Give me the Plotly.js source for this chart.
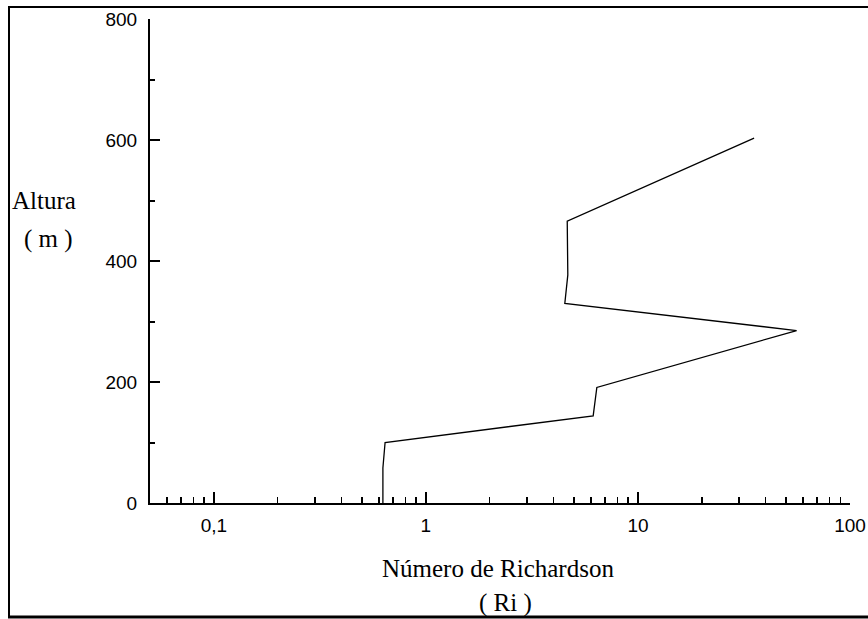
<!DOCTYPE html>
<html>
<head>
<meta charset="utf-8">
<script src="https://cdn.plot.ly/plotly-3.0.1.min.js"></script>
<style>
html,body{margin:0;padding:0;background:#fff;}
#chart{width:868px;height:619px;}
</style>
</head>
<body>
<div id="chart"></div>
<script>
// Richardson number profile
var richardson = [35.3, 4.64, 4.67, 4.52, 56, 6.4, 6.15, 0.642, 0.627, 0.627];
var altura     = [603, 466, 377, 330, 285, 191, 144, 100, 58, 0];

var xTickVals = [0.1, 1, 10, 100];
var xTickText = ['0,1', '1', '10', '100'];
var xMinorVals = [0.06,0.07,0.08,0.09,0.2,0.3,0.4,0.5,0.6,0.7,0.8,0.9,2,3,4,5,6,7,8,9,20,30,40,50,60,70,80,90];
var yTickVals = [0, 200, 400, 600, 800];
var yMinorVals = [100, 300, 500, 700];

var L = 150, R = 850, T = 19, B = 503;
function px(x){ return (x - L) / (R - L); }
function py(y){ return (B - y) / (B - T); }

var serif = {family: '"Liberation Serif", "Times New Roman", serif', size: 25, color: '#000'};
var tickFont = {family: '"Liberation Sans", Arial, sans-serif', size: 19, color: '#000'};

var trace = {
  x: richardson, y: altura, type: 'scatter', mode: 'lines',
  line: {color: '#000', width: 1.3}, hoverinfo: 'none'
};

var layout = {
  width: 868, height: 619,
  margin: {l: L, r: 868 - R, t: T, b: 619 - B, pad: 0},
  paper_bgcolor: '#fff', plot_bgcolor: '#fff',
  showlegend: false,
  font: {family: '"Liberation Sans", Arial, sans-serif', size: 19, color: '#000'},
  xaxis: {
    type: 'log', range: [Math.log10(0.05), 2],
    tickmode: 'array', tickvals: xTickVals, ticktext: xTickText, tickfont: tickFont,
    ticks: 'inside', ticklen: 11, tickwidth: 2, tickcolor: '#000',
    showline: true, linecolor: '#000', linewidth: 2,
    showgrid: false, zeroline: false, ticklabelstandoff: 4,
    minor: {tickmode: 'array', tickvals: xMinorVals, ticks: 'inside', ticklen: 6, tickwidth: 1.5, tickcolor: '#000', showgrid: false}
  },
  yaxis: {
    range: [0, 800],
    tickmode: 'array', tickvals: yTickVals, tickfont: tickFont,
    ticks: 'inside', ticklen: 10, tickwidth: 2, tickcolor: '#000',
    showline: true, linecolor: '#000', linewidth: 2,
    showgrid: false, zeroline: false, ticklabelstandoff: 7,
    minor: {tickmode: 'array', tickvals: yMinorVals, ticks: 'inside', ticklen: 5, tickwidth: 2, tickcolor: '#000', showgrid: false}
  },
  annotations: [
    {text: 'Altura', xref: 'paper', yref: 'paper', x: px(10), y: py(200), xanchor: 'left', yanchor: 'middle', showarrow: false, font: serif},
    {text: '( m )', xref: 'paper', yref: 'paper', x: px(22), y: py(239), xanchor: 'left', yanchor: 'middle', showarrow: false, font: serif},
    {text: 'Número de Richardson', xref: 'paper', yref: 'paper', x: px(498), y: py(568), xanchor: 'center', yanchor: 'middle', showarrow: false, font: serif},
    {text: '( Ri )', xref: 'paper', yref: 'paper', x: px(505), y: py(603), xanchor: 'center', yanchor: 'middle', showarrow: false, font: serif}
  ],
  shapes: [
    {type: 'line', layer: 'below', xref: 'paper', yref: 'paper', x0: px(9), x1: px(870), y0: py(7), y1: py(7), line: {color: '#000', width: 2}},
    {type: 'line', layer: 'below', xref: 'paper', yref: 'paper', x0: px(9), x1: px(9), y0: py(6), y1: py(618), line: {color: '#000', width: 2}},
    {type: 'line', layer: 'below', xref: 'paper', yref: 'paper', x0: px(8), x1: px(870), y0: py(617), y1: py(617), line: {color: '#000', width: 3}}
  ]
};

Plotly.newPlot('chart', [trace], layout, {staticPlot: true, displayModeBar: false});
</script>
</body>
</html>
